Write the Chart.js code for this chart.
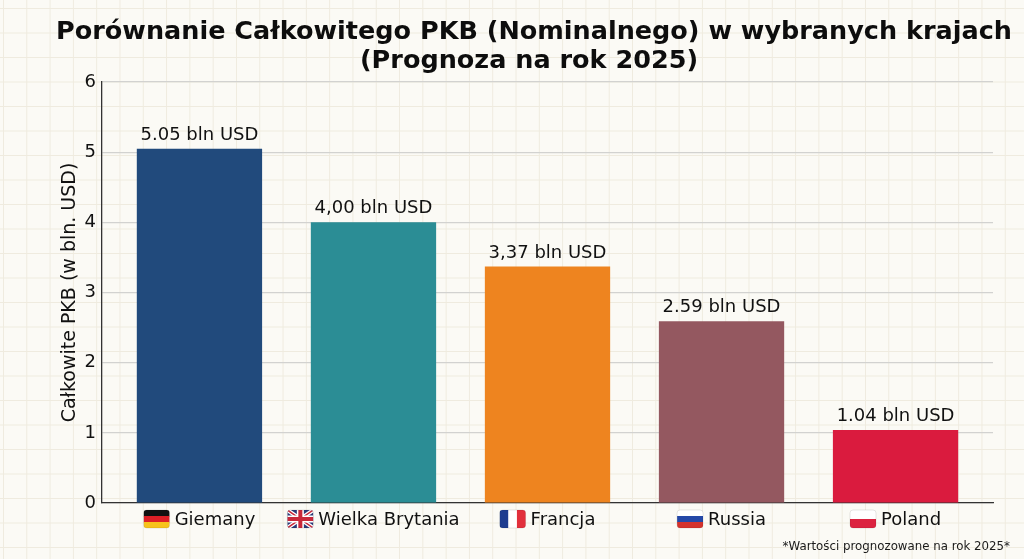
<!DOCTYPE html>
<html>
<head>
<meta charset="utf-8">
<script src="https://cdn.jsdelivr.net/npm/chart.js@4.4.1/dist/chart.umd.min.js"></script>
<style>
  html, body { margin: 0; padding: 0; }
  body {
    width: 1024px; height: 559px; overflow: hidden;
    background-color: #fbfaf5;
    background-image:
      linear-gradient(to right, #efebdf 1px, transparent 1px),
      linear-gradient(to bottom, #efebdf 1px, transparent 1px);
    background-size: 23.3px 24.5px;
    background-position: 3px 8px;
  }
  #wrap { position: relative; width: 1024px; height: 559px; }
  canvas { display: block; }
</style>
</head>
<body>
<div id="wrap"><canvas id="gdpChart" width="1024" height="559"></canvas></div>
<script>
// Dane (prognoza 2025)
const countries = ["Giemany", "Wielka Brytania", "Francja", "Russia", "Poland"];
const flagCodes = ["de", "gb", "fr", "ru", "pl"];
const gdpValues = [5.05, 4.00, 3.37, 2.59, 1.04];
const valueLabels = ["5.05 bln USD", "4,00 bln USD", "3,37 bln USD", "2.59 bln USD", "1.04 bln USD"];
const barColors = ["#214a7c", "#2b8d95", "#ee841f", "#945860", "#da1b3e"];
const yTicks = [0, 1, 2, 3, 4, 5, 6];

const titleLines = ["Porównanie Całkowitego PKB (Nominalnego) w wybranych krajach", "(Prognoza na rok 2025)"];
const footnote = "*Wartości prognozowane na rok 2025*";

const FONT = "'DejaVu Sans', 'Noto Sans', sans-serif";

// Rysowanie flag obok nazw krajów
function drawFlag(ctx, code, x, y, w, h) {
    ctx.save();
    ctx.beginPath();
    ctx.roundRect(x, y, w, h, 3);
    ctx.clip();
    if (code === "de") {
        ["#111111", "#dd1f26", "#f7c21b"].forEach((c, i) => { ctx.fillStyle = c; ctx.fillRect(x, y + i * h / 3, w, h / 3 + 0.5); });
    } else if (code === "fr") {
        ["#1d3c8f", "#ffffff", "#e2303c"].forEach((c, i) => { ctx.fillStyle = c; ctx.fillRect(x + i * w / 3, y, w / 3 + 0.5, h); });
    } else if (code === "ru") {
        ["#ffffff", "#2448a8", "#d3322c"].forEach((c, i) => { ctx.fillStyle = c; ctx.fillRect(x, y + i * h / 3, w, h / 3 + 0.5); });
    } else if (code === "pl") {
        ctx.fillStyle = "#ffffff"; ctx.fillRect(x, y, w, h / 2);
        ctx.fillStyle = "#dc2340"; ctx.fillRect(x, y + h / 2, w, h / 2);
    } else if (code === "gb") {
        ctx.fillStyle = "#2b3a78"; ctx.fillRect(x, y, w, h);
        ctx.strokeStyle = "#ffffff"; ctx.lineWidth = 4;
        ctx.beginPath(); ctx.moveTo(x, y); ctx.lineTo(x + w, y + h); ctx.moveTo(x + w, y); ctx.lineTo(x, y + h); ctx.stroke();
        ctx.strokeStyle = "#c8283a"; ctx.lineWidth = 1.5;
        ctx.beginPath(); ctx.moveTo(x, y); ctx.lineTo(x + w, y + h); ctx.moveTo(x + w, y); ctx.lineTo(x, y + h); ctx.stroke();
        ctx.fillStyle = "#ffffff";
        ctx.fillRect(x + w / 2 - 3.5, y, 7, h); ctx.fillRect(x, y + h / 2 - 3.5, w, 7);
        ctx.fillStyle = "#c8283a";
        ctx.fillRect(x + w / 2 - 2, y, 4, h); ctx.fillRect(x, y + h / 2 - 2, w, 4);
    }
    ctx.restore();
    ctx.save();
    ctx.strokeStyle = "rgba(0,0,0,0.12)";
    ctx.lineWidth = 0.8;
    ctx.beginPath(); ctx.roundRect(x, y, w, h, 3); ctx.stroke();
    ctx.restore();
}

const extrasPlugin = {
    id: "extras",
    afterDraw(chart) {
        const ctx = chart.ctx;
        const xScale = chart.scales.x;
        const yScale = chart.scales.y;

        // Tytuł
        ctx.save();
        ctx.fillStyle = "#0d0d0d";
        ctx.textAlign = "center";
        ctx.textBaseline = "alphabetic";
        ctx.font = "bold 25.5px " + FONT;
        ctx.fillText(titleLines[0], 534, 39);
        ctx.fillText(titleLines[1], 529, 68);
        ctx.restore();

        // Etykiety wartości nad słupkami
        ctx.save();
        ctx.font = "18px " + FONT;
        ctx.fillStyle = "#111111";
        ctx.textAlign = "center";
        ctx.textBaseline = "alphabetic";
        gdpValues.forEach((v, i) => {
            ctx.fillText(valueLabels[i], xScale.getPixelForValue(i), yScale.getPixelForValue(v) - 9);
        });
        ctx.restore();

        // Nazwy krajów z flagami
        ctx.save();
        ctx.font = "18px " + FONT;
        ctx.fillStyle = "#111111";
        ctx.textBaseline = "middle";
        ctx.textAlign = "left";
        const flagW = 26, flagH = 18, gap = 5;
        countries.forEach((name, i) => {
            const cx = xScale.getPixelForValue(i);
            const tw = ctx.measureText(name).width;
            const left = cx - (flagW + gap + tw) / 2;
            const cy = yScale.bottom + 16;
            drawFlag(ctx, flagCodes[i], left, cy - flagH / 2, flagW, flagH);
            ctx.fillText(name, left + flagW + gap, cy + 1);
        });
        ctx.restore();

        // Przypis
        ctx.save();
        ctx.font = "11.8px " + FONT;
        ctx.fillStyle = "#1a1a1a";
        ctx.textAlign = "right";
        ctx.textBaseline = "alphabetic";
        ctx.fillText(footnote, 1010, 550);
        ctx.restore();
    }
};

new Chart(document.getElementById("gdpChart"), {
    type: "bar",
    data: {
        datasets: [{
            data: gdpValues.map((v, i) => ({ x: i, y: v })),
            backgroundColor: barColors,
            borderWidth: 0,
            categoryPercentage: 1,
            barPercentage: 0.72
        }]
    },
    options: {
        responsive: false,
        animation: false,
        devicePixelRatio: 1,
        layout: { padding: { top: 82, left: 0, right: 31, bottom: 56 } },
        scales: {
            x: {
                type: "linear",
                offset: false,
                min: -0.56,
                max: 4.56,
                afterBuildTicks(scale) { scale.ticks = countries.map((c, i) => ({ value: i })); },
                ticks: { display: false },
                grid: { display: false },
                border: { display: true, color: "#333333", width: 1.3 },
                afterFit(scale) { scale.height = 0; }
            },
            y: {
                min: 0,
                max: 6,
                afterBuildTicks(scale) { scale.ticks = yTicks.map(v => ({ value: v })); },
                ticks: {
                    color: "#111111",
                    padding: 6,
                    font: { family: FONT, size: 18 }
                },
                grid: { color: "#d2d2d0", lineWidth: 1.2, drawTicks: false },
                border: { display: true, color: "#333333", width: 1.3 },
                title: {
                    display: true,
                    text: "Całkowite PKB (w bln. USD)",
                    color: "#111111",
                    font: { family: FONT, size: 19 },
                    padding: { top: 59, bottom: 0 }
                },
                afterFit(scale) { scale.width = 102; }
            }
        },
        plugins: {
            legend: { display: false },
            title: { display: false },
            tooltip: { enabled: false }
        }
    },
    plugins: [extrasPlugin]
});
</script>
</body>
</html>
